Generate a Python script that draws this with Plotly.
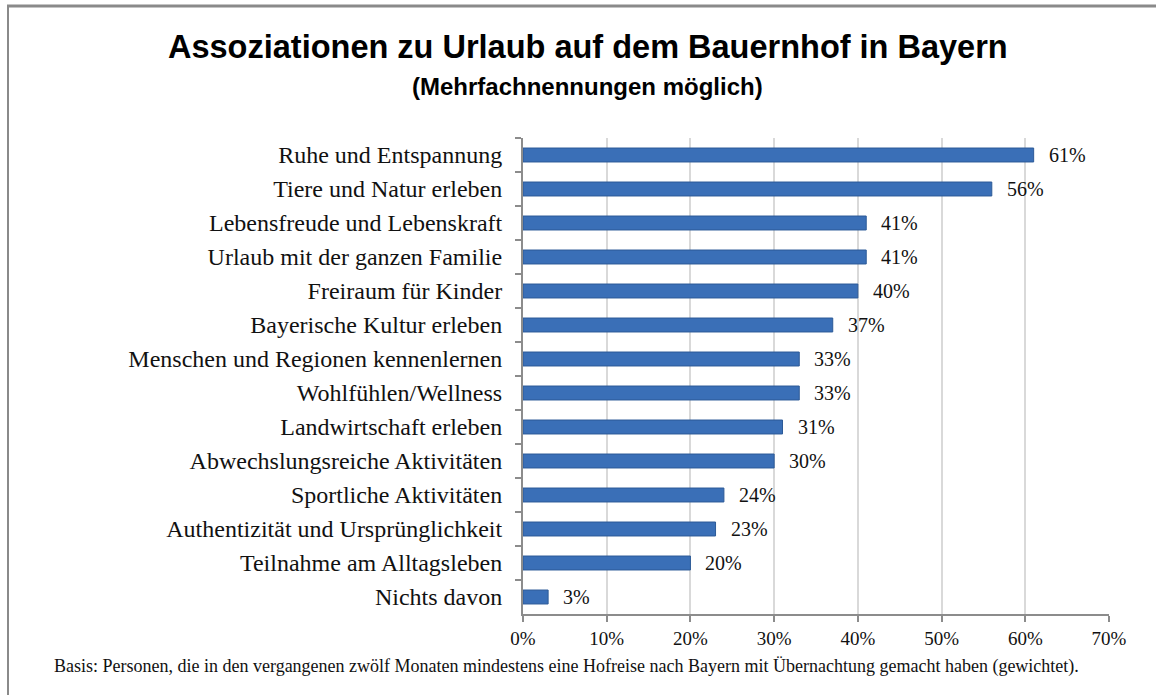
import plotly.graph_objects as go

categories = [
    "Ruhe und Entspannung",
    "Tiere und Natur erleben",
    "Lebensfreude und Lebenskraft",
    "Urlaub mit der ganzen Familie",
    "Freiraum für Kinder",
    "Bayerische Kultur erleben",
    "Menschen und Regionen kennenlernen",
    "Wohlfühlen/Wellness",
    "Landwirtschaft erleben",
    "Abwechslungsreiche Aktivitäten",
    "Sportliche Aktivitäten",
    "Authentizität und Ursprünglichkeit",
    "Teilnahme am Alltagsleben",
    "Nichts davon",
]
values = [61, 56, 41, 41, 40, 37, 33, 33, 31, 30, 24, 23, 20, 3]
tick_vals = [0, 10, 20, 30, 40, 50, 60, 70]
tick_text = [f"{v}%" for v in tick_vals]

title = "Assoziationen zu Urlaub auf dem Bauernhof in Bayern"
subtitle = "(Mehrfachnennungen möglich)"
footnote = ("Basis: Personen, die in den vergangenen zwölf Monaten mindestens eine Hofreise "
            "nach Bayern mit Übernachtung gemacht haben (gewichtet).")

W, H = 1156, 695
L, R, T, B = 523, 47, 138, 81
pw, ph = W - L - R, H - T - B

def px(x):
    return (x - L) / pw

def py(y):
    return (H - B - y) / ph

serif = "Liberation Serif, Times New Roman, serif"
sans = "Liberation Sans Narrow, Arial Narrow, Liberation Sans, Arial, sans-serif"

fig = go.Figure()
fig.add_trace(go.Bar(
    x=values,
    y=categories,
    orientation="h",
    width=0.41,
    marker=dict(color="#3A6FB7", line=dict(color="#2C5A97", width=1)),
    hoverinfo="x+y",
))

annotations = []
for c, v in zip(categories, values):
    annotations.append(dict(
        x=v, y=c, xref="x", yref="y", text=f"{v}%", showarrow=False,
        xanchor="left", xshift=13, font=dict(family=serif, size=20, color="#111"),
    ))

annotations += [
    dict(text=f"<b>{title}</b>", xref="paper", yref="paper", x=px(588), y=py(47),
         xanchor="center", yanchor="middle", showarrow=False,
         font=dict(family=sans, size=32.5, color="#000")),
    dict(text=f"<b>{subtitle}</b>", xref="paper", yref="paper", x=px(587), y=py(87),
         xanchor="center", yanchor="middle", showarrow=False,
         font=dict(family=sans, size=24, color="#000")),
    dict(text=footnote, xref="paper", yref="paper", x=px(566), y=py(666),
         xanchor="center", yanchor="middle", showarrow=False,
         font=dict(family=serif, size=18, color="#111")),
]

shapes = [
    dict(type="line", xref="paper", yref="paper", x0=px(7), x1=px(1160), y0=py(6), y1=py(6),
         line=dict(color="#8A8A8A", width=3)),
    dict(type="line", xref="paper", yref="paper", x0=px(8), x1=px(8), y0=py(5), y1=py(700),
         line=dict(color="#8A8A8A", width=2)),
]

fig.update_layout(
    width=W, height=H,
    margin=dict(l=L, r=R, t=T, b=B),
    paper_bgcolor="white", plot_bgcolor="white",
    showlegend=False,
    annotations=annotations,
    shapes=shapes,
    xaxis=dict(
        range=[0, 70], tickvals=tick_vals, ticktext=tick_text,
        showgrid=True, gridcolor="#D9D9D9", gridwidth=1.5,
        showline=True, linecolor="#8C8C8C", linewidth=2,
        ticks="outside", ticklen=6, tickcolor="#8C8C8C", tickwidth=2,
        tickfont=dict(family=serif, size=19, color="#111"),
        zeroline=False, fixedrange=True,
    ),
    yaxis=dict(
        autorange="reversed",
        showline=True, linecolor="#8C8C8C", linewidth=2,
        ticks="outside", ticklen=6, tickcolor="#8C8C8C", tickwidth=2,
        tickson="boundaries",
        tickfont=dict(family=serif, size=24, color="#111"),
        ticklabelstandoff=14,
        showgrid=False, fixedrange=True,
    ),
)

fig.write_html("out.html", config={"displayModeBar": False},
               post_script="document.body.style.margin='0';")
